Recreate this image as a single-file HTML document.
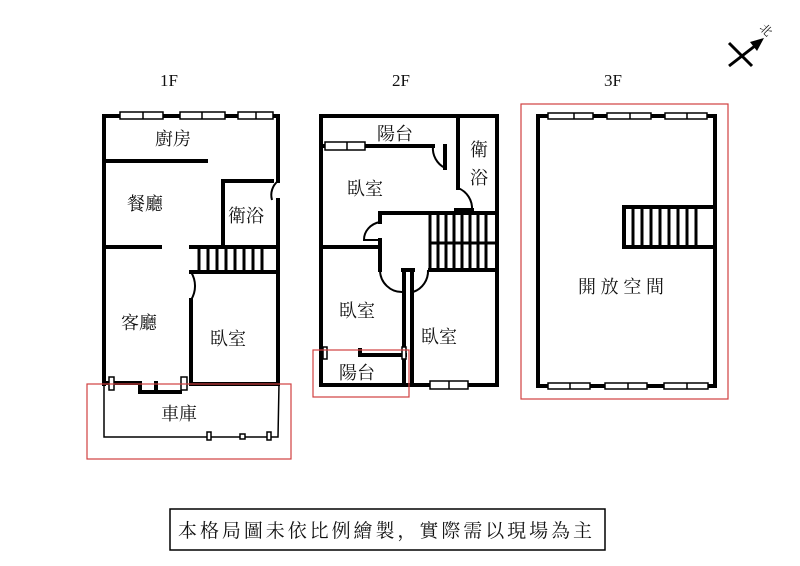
<!DOCTYPE html>
<html><head><meta charset="utf-8"><style>
html,body{margin:0;padding:0;background:#fff;}
svg{display:block;}
text{font-family:"Liberation Serif","Noto Serif CJK SC","Noto Sans CJK TC",serif;fill:#111;}
</style></head><body>
<svg width="800" height="566" viewBox="0 0 800 566" xmlns="http://www.w3.org/2000/svg">
<rect width="800" height="566" fill="#fff"/>
<g stroke="#000" stroke-width="3" fill="none">
<line x1="729" y1="43" x2="752" y2="66"/>
<line x1="729" y1="66" x2="760" y2="42"/>
</g>
<polygon points="764,38 750,42 757,51" fill="#000"/>
<text x="760" y="34" font-size="12" transform="rotate(45 766 30)">北</text>

<text x="160" y="86" font-size="17">1F</text>
<text x="392" y="86" font-size="17">2F</text>
<text x="604" y="86" font-size="17">3F</text>

<!-- 1F -->
<g stroke="#000" stroke-width="4" fill="none" stroke-linecap="square">
<polyline points="104,384 104,116 278,116 278,181"/>
<line x1="278" y1="200" x2="278" y2="384"/>
<line x1="104" y1="161" x2="206" y2="161"/>
<polyline points="223,247 223,181 272,181"/>
<line x1="104" y1="247" x2="160" y2="247"/>
<line x1="191" y1="247" x2="278" y2="247"/>
<line x1="191" y1="272" x2="278" y2="272"/>
<line x1="191" y1="300" x2="191" y2="384"/>
<line x1="191" y1="384" x2="278" y2="384"/>
<polyline points="104,383 140,383 140,392 156,392 156,383"/>
<line x1="156" y1="392" x2="180" y2="392"/>
</g>
<g stroke="#000" stroke-width="2" fill="none">
<path d="M272,200 A18,18 0 0 1 278,181"/>
<path d="M191,272 A30,28 0 0 1 191,300"/>
</g>
<g stroke="#000" stroke-width="3">
<line x1="199" y1="248" x2="199" y2="271"/><line x1="208" y1="248" x2="208" y2="271"/><line x1="217" y1="248" x2="217" y2="271"/><line x1="226" y1="248" x2="226" y2="271"/><line x1="235" y1="248" x2="235" y2="271"/><line x1="244" y1="248" x2="244" y2="271"/><line x1="253" y1="248" x2="253" y2="271"/><line x1="262" y1="248" x2="262" y2="271"/>
</g>
<g fill="#fff" stroke="#000" stroke-width="1.5">
<rect x="120" y="112" width="43" height="7"/><line x1="143" y1="112" x2="143" y2="119"/>
<rect x="180" y="112" width="45" height="7"/><line x1="202" y1="112" x2="202" y2="119"/>
<rect x="238" y="112" width="35" height="7"/><line x1="256" y1="112" x2="256" y2="119"/>
<rect x="109" y="377" width="5" height="13"/><rect x="181" y="377" width="6" height="13"/>
</g>
<polyline points="104,384 104,437 278,437 279,384" fill="none" stroke="#000" stroke-width="1.5"/>
<g fill="#fff" stroke="#000" stroke-width="1.5">
<rect x="207" y="432" width="4" height="8"/><rect x="240" y="434" width="5" height="5"/><rect x="267" y="432" width="4" height="8"/>
</g>
<rect x="87" y="384" width="204" height="75" fill="none" stroke="#d04040" stroke-width="1.2"/>
<g font-size="18">
<text x="155" y="145">廚房</text>
<text x="127" y="210">餐廳</text>
<text x="228" y="222">衛浴</text>
<text x="121" y="329">客廳</text>
<text x="210" y="345">臥室</text>
<text x="161" y="420">車庫</text>
</g>

<!-- 2F -->
<g stroke="#000" stroke-width="4" fill="none" stroke-linecap="square">
<polyline points="321,116 497,116 497,385 321,385 321,116"/>
<line x1="321" y1="146" x2="433" y2="146"/>
<line x1="458" y1="116" x2="458" y2="188"/>
<line x1="456" y1="210" x2="472" y2="210"/>
<line x1="380" y1="213" x2="497" y2="213"/>
<line x1="380" y1="213" x2="380" y2="222"/>
<line x1="380" y1="240" x2="380" y2="270"/>
<line x1="321" y1="247" x2="380" y2="247"/>
<line x1="430" y1="270" x2="497" y2="270"/>
<line x1="404" y1="272" x2="404" y2="385"/>
<line x1="412" y1="272" x2="412" y2="385"/>
<line x1="403" y1="270" x2="413" y2="270"/>
<line x1="360" y1="355" x2="405" y2="355"/>
<line x1="360" y1="350" x2="360" y2="355"/>
<line x1="445" y1="146" x2="445" y2="168"/>
</g>
<g stroke="#000" stroke-width="2" fill="none">
<path d="M433,146 A22,22 0 0 0 445,168"/>
<path d="M458,188 A22,22 0 0 1 472,210"/>
<path d="M380,222 A20,18 0 0 0 364,240 L380,240"/>
<path d="M380,270 A22,22 0 0 0 403,292"/>
<path d="M413,292 A22,22 0 0 0 428,270"/>
</g>
<g stroke="#000" stroke-width="3">
<line x1="430" y1="214" x2="430" y2="270"/><line x1="438" y1="214" x2="438" y2="269"/><line x1="446" y1="214" x2="446" y2="269"/><line x1="454" y1="214" x2="454" y2="269"/><line x1="462" y1="214" x2="462" y2="269"/><line x1="470" y1="214" x2="470" y2="269"/><line x1="478" y1="214" x2="478" y2="269"/><line x1="486" y1="214" x2="486" y2="269"/>
<line x1="430" y1="243" x2="497" y2="243"/>
</g>
<g fill="#fff" stroke="#000" stroke-width="1.5">
<rect x="325" y="142" width="40" height="8"/><line x1="347" y1="142" x2="347" y2="150"/>
<rect x="430" y="381" width="38" height="8"/><line x1="449" y1="381" x2="449" y2="389"/>
<rect x="323" y="347" width="4" height="12"/><rect x="402" y="347" width="4" height="12"/>
</g>
<rect x="313" y="350" width="96" height="47" fill="none" stroke="#d04040" stroke-width="1.2"/>
<g font-size="18">
<text x="377" y="140">陽台</text>
<text x="470" y="156">衛</text>
<text x="470" y="184">浴</text>
<text x="347" y="195">臥室</text>
<text x="339" y="317">臥室</text>
<text x="421" y="343">臥室</text>
<text x="339" y="379">陽台</text>
</g>

<!-- 3F -->
<g stroke="#000" stroke-width="4" fill="none" stroke-linecap="square">
<rect x="538" y="116" width="177" height="270"/>
<rect x="624" y="207" width="91" height="40"/>
</g>
<g stroke="#000" stroke-width="3">
<line x1="633" y1="208" x2="633" y2="246"/><line x1="642" y1="208" x2="642" y2="246"/><line x1="651" y1="208" x2="651" y2="246"/><line x1="660" y1="208" x2="660" y2="246"/><line x1="669" y1="208" x2="669" y2="246"/><line x1="678" y1="208" x2="678" y2="246"/><line x1="687" y1="208" x2="687" y2="246"/><line x1="696" y1="208" x2="696" y2="246"/>
</g>
<g fill="#fff" stroke="#000" stroke-width="1.5">
<rect x="548" y="113" width="45" height="6"/><line x1="574" y1="113" x2="574" y2="119"/>
<rect x="607" y="113" width="44" height="6"/><line x1="630" y1="113" x2="630" y2="119"/>
<rect x="665" y="113" width="42" height="6"/><line x1="687" y1="113" x2="687" y2="119"/>
<rect x="548" y="383" width="42" height="6"/><line x1="570" y1="383" x2="570" y2="389"/>
<rect x="605" y="383" width="42" height="6"/><line x1="628" y1="383" x2="628" y2="389"/>
<rect x="664" y="383" width="44" height="6"/><line x1="687" y1="383" x2="687" y2="389"/>
</g>
<rect x="521" y="104" width="207" height="295" fill="none" stroke="#d04040" stroke-width="1.2"/>
<text x="578" y="293" font-size="18" textLength="86">開放空間</text>

<rect x="170" y="509" width="435" height="41" fill="none" stroke="#000" stroke-width="1.5"/>
<text x="178" y="537" font-size="19" textLength="414" lengthAdjust="spacing">本格局圖未依比例繪製，實際需以現場為主</text>
</svg>
</body></html>
